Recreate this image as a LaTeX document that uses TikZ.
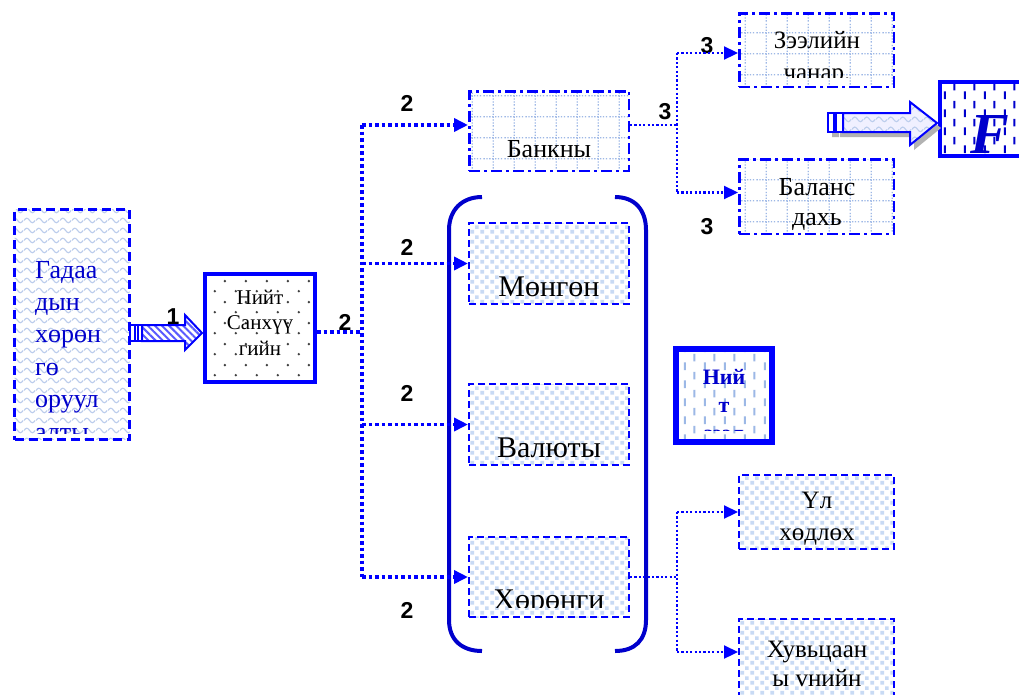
\documentclass[tikz,border=0pt]{standalone}
\usepackage{fontspec}
\setmainfont{Liberation Serif}
\setsansfont{Liberation Sans}
\usetikzlibrary{patterns,patterns.meta,arrows.meta}
\definecolor{bblue}{HTML}{0000FF}
\definecolor{dblue}{HTML}{0000CC}
\definecolor{wavec}{HTML}{BCCDEC}
\definecolor{gridc}{HTML}{9EB8E6}
\definecolor{sqc}{HTML}{C8DAF4}
\definecolor{dashc}{HTML}{9CB8E6}
\tikzdeclarepattern{
  name=mywaves, type=uncolored,
  bounding box={(0pt,0pt) and (12pt,10pt)},
  tile size={(12pt,10pt)},
  code={\draw[line width=1.2pt] (0pt,5pt) sin (3pt,7.5pt) cos (6pt,5pt) sin (9pt,2.5pt) cos (12pt,5pt);}
}
\tikzdeclarepattern{
  name=mydots, type=uncolored,
  bounding box={(0pt,0pt) and (21pt,21pt)},
  tile size={(21pt,21pt)},
  code={\fill (5pt,5pt) circle (1.4pt); \fill (15.5pt,15.5pt) circle (1.4pt);}
}
\tikzdeclarepattern{
  name=mydotgrid, type=uncolored,
  bounding box={(0pt,0pt) and (21pt,21pt)},
  tile size={(21pt,21pt)},
  code={\foreach \i in {0,...,6}{\fill (\i*3pt+0.5pt,10pt) rectangle ++(1.4pt,1.4pt); \fill (10pt,\i*3pt+0.5pt) rectangle ++(1.4pt,1.4pt);}}
}
\tikzdeclarepattern{
  name=mysq, type=uncolored,
  bounding box={(0pt,0pt) and (10pt,10pt)},
  tile size={(10pt,10pt)},
  code={\fill (0.5pt,0.5pt) rectangle (4.5pt,4.5pt); \fill (5.5pt,5.5pt) rectangle (9.5pt,9.5pt);}
}
\tikzdeclarepattern{
  name=myvdash, type=uncolored,
  bounding box={(0pt,0pt) and (20pt,18pt)},
  tile size={(20pt,18pt)},
  code={\fill (4pt,1pt) rectangle (6pt,9pt); \fill (14pt,10pt) rectangle (16pt,18pt);}
}
\tikzset{
  wavebox/.style={draw=bblue, line width=3pt, dash pattern=on 9pt off 5pt, pattern=mywaves, pattern color=wavec},
  gridbox/.style={draw=bblue, line width=2.5pt, dash pattern=on 11pt off 4pt on 3pt off 4pt, pattern=mydotgrid, pattern color=gridc},
  sqbox/.style={draw=bblue, line width=2pt, dash pattern=on 7pt off 4pt, pattern=mysq, pattern color=sqc},
  dotbox/.style={draw=bblue, line width=4pt, pattern=mydots, pattern color=black!75},
  vdbox/.style={draw=bblue, pattern=myvdash},
  thickdot/.style={draw=bblue, line width=3.5pt, dash pattern=on 3.5pt off 3pt},
  thindot/.style={draw=bblue, line width=2.2pt, dash pattern=on 2.2pt off 2.2pt},
  tip/.style={-{Triangle[length=14pt,width=13pt]}},
  num/.style={font=\sffamily\bfseries\fontsize{23pt}{23pt}\selectfont, inner sep=0pt},
  txt/.style={inner sep=0pt, align=center, anchor=base},
  bracket/.style={draw=dblue, line width=4pt},
  barrow/.style={draw=bblue, line width=2pt, line join=miter}
}
\begin{document}
\begin{tikzpicture}[x=1pt,y=-1pt]
\path[use as bounding box, clip] (0,0) rectangle (1019,694);
\fill[white] (0,0) rectangle (1019,694);

% boxes
\node[wavebox, minimum width=115pt, minimum height=230pt] (left) at (72,324.5) {};
\node[dotbox, minimum width=110pt, minimum height=108pt] (niit) at (260,328) {};
\node[gridbox, minimum width=159.5pt, minimum height=79.5pt] (bank) at (549,131) {};
\node[sqbox, minimum width=160pt, minimum height=81pt] (mongon) at (549,263.5) {};
\node[sqbox, minimum width=160pt, minimum height=81pt] (valyut) at (549,424.5) {};
\node[sqbox, minimum width=160pt, minimum height=80pt] (khor) at (549,577) {};
\node[gridbox, minimum width=154.5pt, minimum height=73.5pt] (zeel) at (816.5,50) {};
\node[gridbox, minimum width=154.5pt, minimum height=74.5pt] (balans) at (816.5,196.5) {};
\node[sqbox, minimum width=155pt, minimum height=74pt] (ul) at (816.5,512) {};
\node[sqbox, minimum width=155pt, minimum height=90pt] (khuv) at (816.5,664) {};
\node[vdbox, line width=4pt, pattern color=dblue, minimum width=98pt, minimum height=74pt] (fbox) at (989,119) {};
\node[vdbox, line width=6pt, pattern color=dashc, minimum width=96pt, minimum height=93pt] (nzeel) at (724,395.5) {};

% texts (base anchor = baseline of the last line)
\begin{scope}
\clip (20,214) rectangle (125,433);
\node[inner sep=0pt, align=left, anchor=base west, text=dblue, font=\fontsize{26pt}{32.4pt}\selectfont] (lefttxt) at (35,440) {Гадаа\\дын\\хөрөн\\гө\\оруул\\алты};
\end{scope}
\node[txt, font=\fontsize{21pt}{25.5pt}\selectfont] (niittxt) at (260,355) {Нийт\\Санхүү\\гийн};
\node[txt, font=\fontsize{26pt}{30pt}\selectfont] (banktxt) at (549,157) {Банкны};
\node[txt, font=\fontsize{30pt}{30pt}\selectfont] (mongontxt) at (549,296) {Мөнгөн};
\node[txt, font=\fontsize{30pt}{30pt}\selectfont] (valyuttxt) at (549,457) {Валюты};
\begin{scope}
\clip (472,540) rectangle (626,607);
\node[txt, font=\fontsize{30pt}{30pt}\selectfont] (khortxt) at (549,609) {Хөрөнги};
\end{scope}
\begin{scope}
\clip (742,16) rectangle (891,77);
\node[txt, font=\fontsize{25pt}{32pt}\selectfont] (zeeltxt) at (817,80) {Зээлийн\\чанар.};
\end{scope}
\node[txt, font=\fontsize{26pt}{30pt}\selectfont] (balanstxt) at (817,225) {Баланс\\дахь};
\node[txt, font=\fontsize{25pt}{32pt}\selectfont] (ultxt) at (817,540) {Үл\\хөдлөх};
\node[txt, font=\fontsize{25pt}{29pt}\selectfont] (khuvtxt) at (817,686) {Хувьцаан\\ы vнийн};
\begin{scope}
\clip (680,353) rectangle (768,430);
\node[txt, text=dblue, font=\bfseries\fontsize{22pt}{28pt}\selectfont] (nzeeltxt) at (724,440) {Ний\\т\\зээл};
\end{scope}
\node[txt, text=dblue, font=\bfseries\itshape\fontsize{58pt}{58pt}\selectfont] (ftxt) at (990,153) {F};

% numbers
\node[num] (n1) at (173,317) {1};
\node[num] (n2a) at (345,322) {2};
\node[num] (n2b) at (407,103) {2};
\node[num] (n2c) at (407,247) {2};
\node[num] (n2d) at (407,393) {2};
\node[num] (n2e) at (407,610) {2};
\node[num] (n3a) at (665,112) {3};
\node[num] (n3b) at (707,46) {3};
\node[num] (n3c) at (707,227) {3};

% bracket
\draw[bracket] (482,197) .. controls (462,197) and (449,210) .. (449,230) -- (449,620) .. controls (449,640) and (462,651) .. (482,651);
\draw[bracket] (615,197) .. controls (635,197) and (646,210) .. (646,230) -- (646,620) .. controls (646,640) and (635,651) .. (615,651);

% connectors left
\coordinate (jn) at (362,332);
\coordinate (bA) at ([yshift=6pt]bank.west);
\draw[thickdot] (niit.east |- jn) -- (jn);
\draw[thickdot] (jn |- bA) -- (jn |- khor.west);
\draw[thickdot, tip] (jn |- bA) -- (bA);
\draw[thickdot, tip] (jn |- mongon.west) -- (mongon.west);
\draw[thickdot, tip] (jn |- valyut.west) -- (valyut.west);
\draw[thickdot, tip] (jn |- khor.west) -- (khor.west);

% connectors right top
\coordinate (bE) at ([yshift=6pt]bank.east);
\coordinate (jn2) at (677,125);
\coordinate (zA) at ([yshift=-3pt]zeel.west);
\coordinate (blA) at ([yshift=4pt]balans.west);
\draw[thindot] (bE) -- (jn2);
\draw[thindot] (jn2 |- zA) -- (jn2 |- blA);
\draw[thindot, tip] (jn2 |- zA) -- (zA);
\draw[thindot, tip] (jn2 |- blA) -- (blA);

% connectors right bottom
\coordinate (jn3) at (677,577);
\coordinate (kA) at ([yshift=12pt]khuv.west);
\draw[thindot] (khor.east) -- (jn3);
\draw[thindot] (jn3 |- ul.west) -- (jn3 |- kA);
\draw[thindot, tip] (jn3 |- ul.west) -- (ul.west);
\draw[thindot, tip] (jn3 |- kA) -- (kA);

% block arrow 1
\draw[barrow, preaction={fill=white}, pattern={Lines[angle=-45,distance=5pt,line width=2pt]}, pattern color=bblue!65] (142,325) -- (185,325) -- (185,315) -- (202,333) -- (185,350) -- (185,341) -- (142,341) -- cycle;
\draw[barrow, line width=1.5pt] (130,325) rectangle (142,341);
\draw[bblue, line width=1.5pt] (135,325) -- (135,341) (138,325) -- (138,341);

% block arrow 2 (shadow, then arrow)
\fill[gray!60] (832,118) rectangle (839,137) (840,118) rectangle (847,137);
\fill[gray!60] (847,118) -- (914,118) -- (914,107) -- (941,128) -- (914,150) -- (914,137) -- (847,137) -- cycle;
\draw[barrow, preaction={fill=blue!6}, pattern=mywaves, pattern color=wavec] (843,113) -- (910,113) -- (910,102) -- (937,123) -- (910,145) -- (910,132) -- (843,132) -- cycle;
\draw[barrow, fill=white, line width=1.5pt] (828,113) rectangle (834,132);
\draw[barrow, fill=white, line width=1.5pt] (836,113) rectangle (843,132);
\end{tikzpicture}
\end{document}
